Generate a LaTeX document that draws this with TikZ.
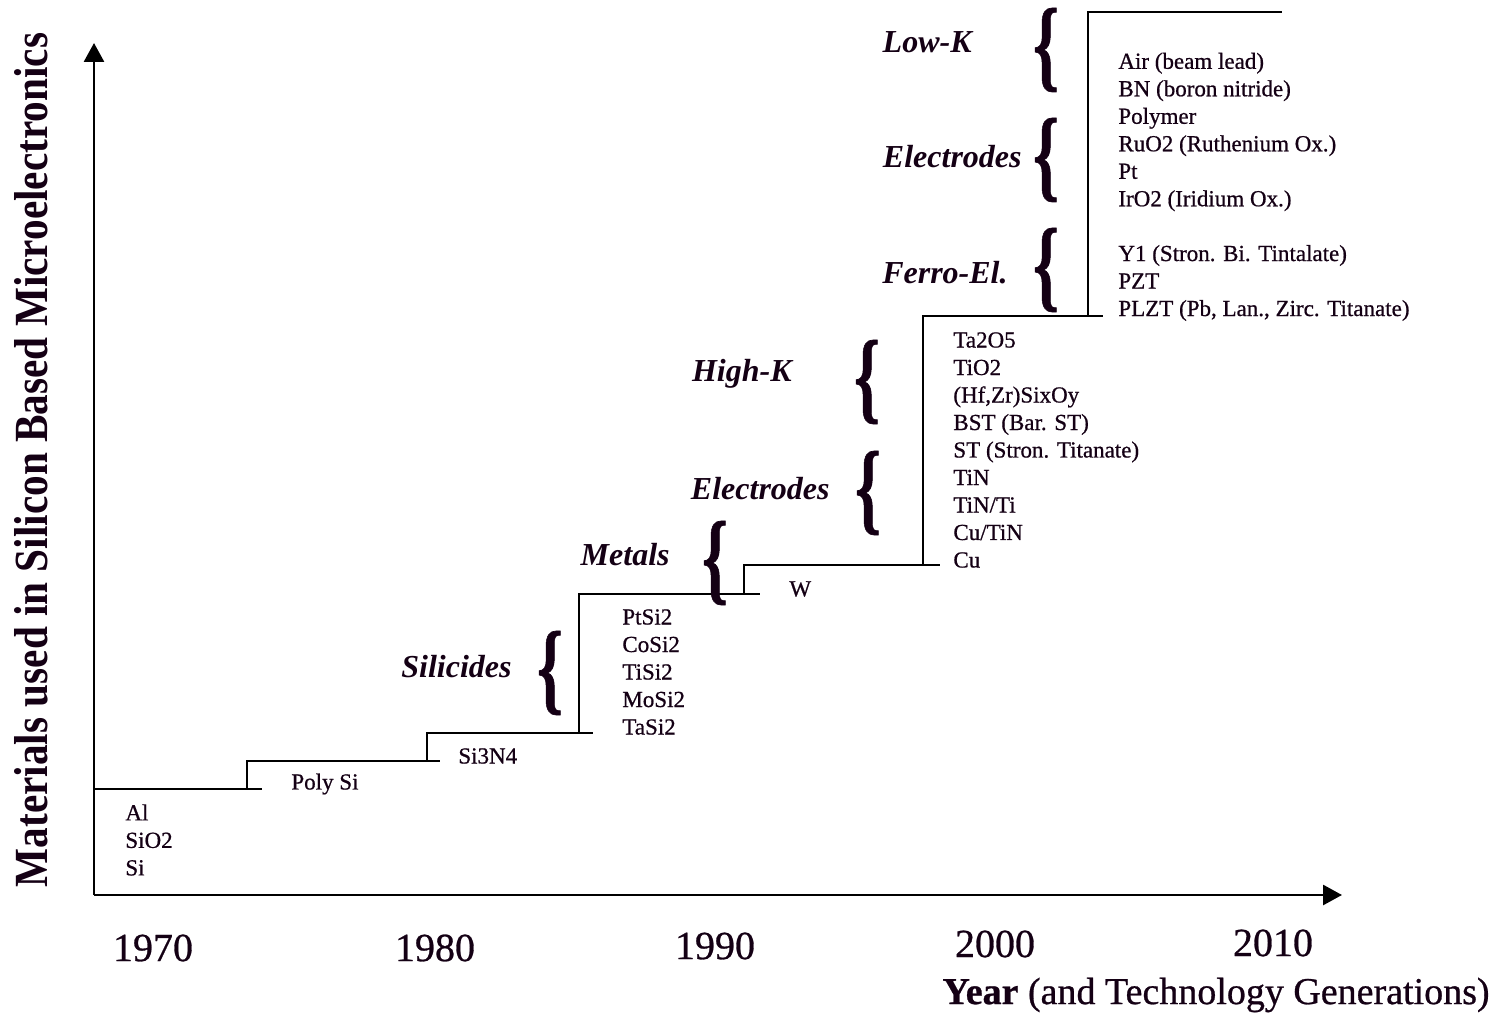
\documentclass[tikz,border=0pt]{standalone}
\usepackage{fontspec}
\setmainfont{Liberation Serif}
\newfontfamily\scanfont[FakeBold=0.7]{Liberation Serif}
\usepackage{graphicx}
\usepackage{xcolor}
\usetikzlibrary{arrows.meta}
\definecolor{ink}{rgb}{0.08,0,0.08}

\begin{document}
\begin{tikzpicture}[
        x=0.5pt, y=-0.5pt,
        >={Triangle[length=9.5pt,width=10pt]},
        every node/.style={text=ink, inner sep=0pt},
        axis/.style={draw=black, line width=1.4pt},
        stair/.style={draw=black, line width=1.3pt},
        matlist/.style={anchor=west, align=left, font=\scanfont\fontsize{11.5}{13.75}\selectfont},
        group/.style={anchor=east, font=\fontsize{16}{19}\selectfont\bfseries\itshape},
        brc/.style={font=\scanfont\fontsize{16}{19}\selectfont\bfseries},
        yearlbl/.style={font=\scanfont\fontsize{20}{24}\selectfont}
    ]
    \useasboundingbox (0,0) rectangle (1495,1015);

    % 1. Axes
    \coordinate (origin) at (94,895);
    \coordinate (ytip) at (94,43);
    \coordinate (xtip) at (1342,895);
    \draw[axis, ->] (origin) -- (ytip);
    \draw[axis, ->] (origin) -- (xtip);

    \node[rotate=90] (ylabel) at (31,460)
        {\resizebox{427pt}{16.5pt}{\bfseries Materials used in Silicon Based Microelectronics}};

    \foreach \yr/\xx/\yy in {1970/153/948, 1980/435/948, 1990/715/946, 2000/995/944, 2010/1273/943}
        \node[yearlbl] (y\yr) at (\xx,\yy) {\yr};

    \node[anchor=east, font=\scanfont\fontsize{19}{22}\selectfont] (xlabel) at (1490,995)
        {\textbf{Year} (and Technology Generations)};

    % 2. Staircase of material generations
    \draw[stair] (94,789) -- (262,789);
    \draw[stair] (247,789) -- (247,761) -- (440,761);
    \draw[stair] (427,761) -- (427,733) -- (593,733);
    \draw[stair] (579,733) -- (579,594) -- (760,594);
    \draw[stair] (744,594) -- (744,565) -- (940,565);
    \draw[stair] (923,565) -- (923,316) -- (1103,316);
    \draw[stair] (1088,316) -- (1088,12) -- (1282,12);

    % 3. Materials of each step
    \node[matlist] (base) at (125,840) {Al\\SiO2\\Si};
    \node[matlist] (poly) at (291,784) {Poly Si};
    \node[matlist] (nitride) at (458,756) {Si3N4};
    \node[matlist] (silic) at (622,672) {PtSi2\\CoSi2\\TiSi2\\MoSi2\\TaSi2};
    \node[matlist] (tung) at (789,589) {W};
    \node[matlist] (hik) at (953,450)
        {Ta2O5\\TiO2\\(Hf,Zr)SixOy\\BST (Bar. ST)\\ST (Stron. Titanate)\\TiN\\TiN/Ti\\Cu/TiN\\Cu};
    \node[matlist] (lok) at (1118,132)
        {Air (beam lead)\\BN (boron nitride)\\Polymer\\RuO2 (Ruthenium Ox.)\\Pt\\IrO2 (Iridium Ox.)};
    \node[matlist] (ferro) at (1118,283)
        {Y1 (Stron. Bi. Tintalate)\\PZT\\PLZT (Pb, Lan., Zirc. Titanate)};

    % 4. Group labels with their braces
    \foreach \nm/\txt/\lx/\ly/\bx/\by in {
            sil/Silicides/512/667/550/673,
            met/Metals/670/555/715/563,
            ele/Electrodes/830/489/868/493,
            hk/High-K/792/374/867/382,
            fe/Ferro-El./1008/273/1046/270,
            elu/Electrodes/1022/157/1046/160,
            lk/Low-K/972/42/1046/50}{
        \node[group] (\nm) at (\lx,\ly) {\txt};
        \node[brc] (\nm b) at (\bx,\by) {\resizebox*{13pt}{42pt}{\{}};
    }

\end{tikzpicture}
\end{document}
